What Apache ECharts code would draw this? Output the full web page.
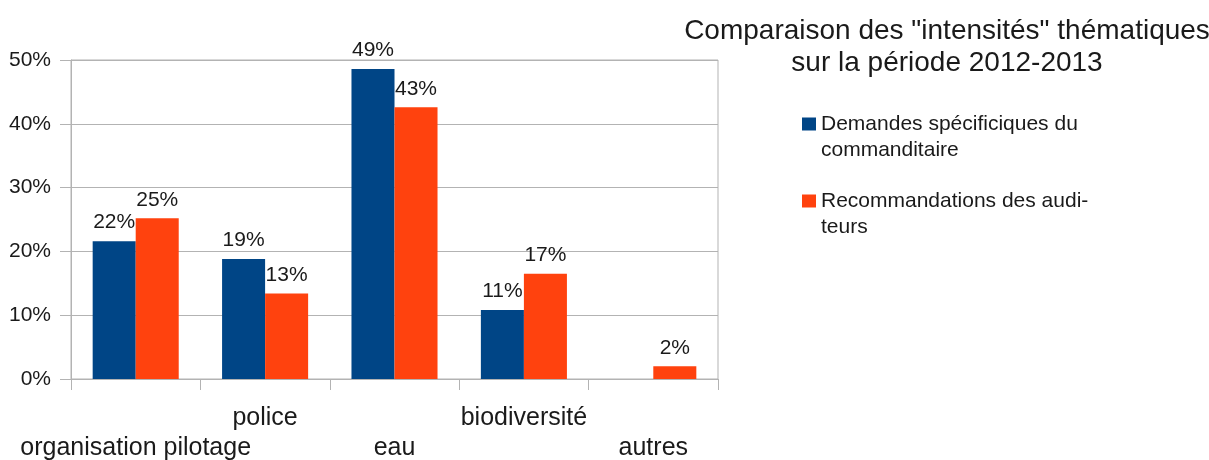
<!DOCTYPE html>
<html><head><meta charset="utf-8">
<script src="https://cdn.jsdelivr.net/npm/echarts@6/dist/echarts.min.js"></script>
<style>html,body{margin:0;padding:0;background:#fff}#c{width:1209px;height:460px}</style>
</head><body><div id="c"></div>
<script>
const categories = ['organisation pilotage', 'police', 'eau', 'biodiversité', 'autres'];
const demandes = [21.6, 18.8, 48.6, 10.8, null];
const recommandations = [25.2, 13.4, 42.6, 16.5, 2.0];
const seriesNames = ['Demandes spécificiques du commanditaire', 'Recommandations des auditeurs'];
const legendLabels = ['Demandes spécificiques du\ncommanditaire', 'Recommandations des audi-\nteurs'];
const yMin = 0, yMax = 50, yStep = 10;
const titleText = 'Comparaison des "intensités" thématiques\nsur la période 2012-2013';

const FONT = '"Liberation Sans", Arial, sans-serif';
const GRAY = '#b3b3b3';
const TXT = '#1a1a1a';
const chart = echarts.init(document.getElementById('c'), null, {renderer: 'canvas'});
const lbl = {
  show: true, position: 'top', distance: 8, color: TXT, fontFamily: FONT, fontSize: 21,
  formatter: p => (p.value == null ? '' : Math.round(p.value) + '%')
};
chart.setOption({
  animation: false,
  backgroundColor: '#fff',
  title: {
    text: titleText, left: 942, top: 10, textAlign: 'center',
    textStyle: {fontFamily: FONT, fontSize: 28, fontWeight: 'normal', color: TXT, lineHeight: 32}
  },
  legend: {
    orient: 'vertical', left: 797, top: 80, itemWidth: 14, itemHeight: 13, itemGap: -1,
    icon: 'rect',
    data: seriesNames,
    formatter: name => '\n' + legendLabels[seriesNames.indexOf(name)],
    textStyle: {fontFamily: FONT, fontSize: 21, color: TXT, lineHeight: 26}
  },
  grid: {left: 71, right: 491, top: 60, bottom: 81, show: true, borderColor: GRAY, borderWidth: 1,
         containLabel: false, outerBoundsMode: 'none'},
  xAxis: {
    type: 'category', data: categories, boundaryGap: true,
    axisLine: {lineStyle: {color: GRAY}},
    axisTick: {show: true, length: 11, lineStyle: {color: GRAY}},
    axisLabel: {
      interval: 0, margin: 24, color: TXT, fontFamily: FONT, fontSize: 25, lineHeight: 30,
      formatter: (v, i) => (i % 2 === 0 ? '\n' + v : v)
    }
  },
  yAxis: {
    type: 'value', min: yMin, max: yMax, interval: yStep,
    axisLine: {show: true, lineStyle: {color: GRAY}},
    axisTick: {show: true, length: 11, lineStyle: {color: GRAY}},
    splitLine: {lineStyle: {color: GRAY}},
    axisLabel: {margin: 20, color: TXT, fontFamily: FONT, fontSize: 21, formatter: '{value}%'}
  },
  series: [
    {name: seriesNames[0], type: 'bar', data: demandes, barGap: '0%', barCategoryGap: '33.5%',
     itemStyle: {color: '#004586'}, label: lbl},
    {name: seriesNames[1], type: 'bar', data: recommandations, barGap: '0%', barCategoryGap: '33.5%',
     itemStyle: {color: '#ff420e'}, label: lbl}
  ]
});
</script></body></html>
